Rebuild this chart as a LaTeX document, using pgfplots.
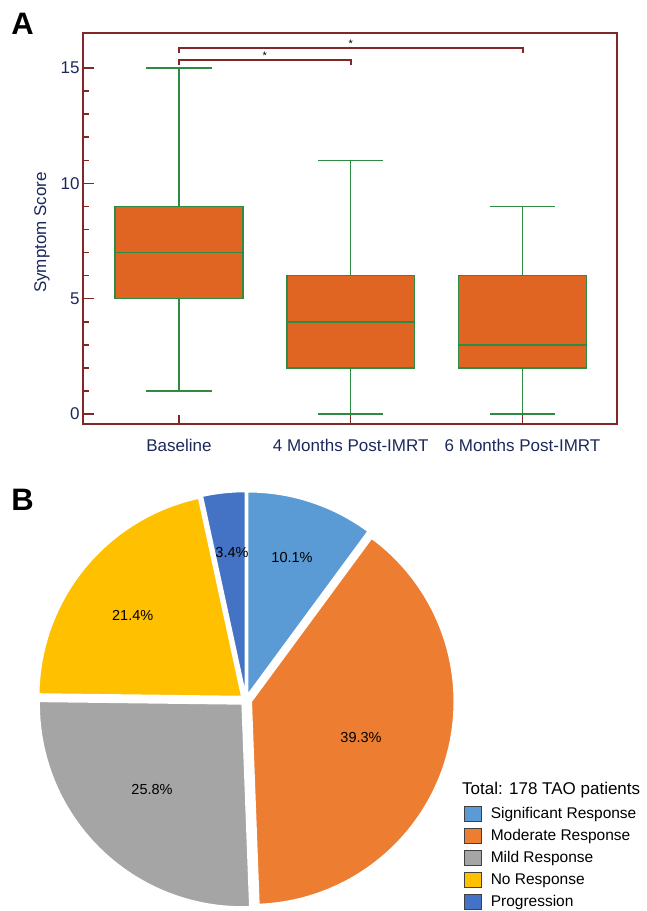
\documentclass[border=0pt]{standalone}
\usepackage{fontspec}
\setmainfont{Liberation Sans}
\usepackage{pgfplots}
\pgfplotsset{compat=1.18}
\usepgfplotslibrary{statistics}
\definecolor{axred}{RGB}{128,40,40}
\definecolor{boxorange}{RGB}{224,101,34}
\definecolor{boxgreen}{RGB}{46,139,66}
\definecolor{navy}{RGB}{28,40,92}
\definecolor{cSig}{RGB}{91,155,213}
\definecolor{cMod}{RGB}{237,125,49}
\definecolor{cMild}{RGB}{165,165,165}
\definecolor{cNo}{RGB}{255,192,0}
\definecolor{cProg}{RGB}{68,114,196}
\begin{document}
\begin{tikzpicture}
\path[use as bounding box] (0pt,0pt) rectangle (646pt,911pt);
\node[font=\fontsize{31}{31}\selectfont\bfseries, inner sep=0pt] at (22.5pt,887.5pt) {A};
\node[font=\fontsize{31}{31}\selectfont\bfseries, inner sep=0pt] at (22.5pt,411.5pt) {B};

% ---------------- Panel A: box plots ----------------
\begin{axis}[
  at={(83pt,487pt)}, anchor=south west, scale only axis,
  width=534pt, height=391pt,
  xmin=-0.558, xmax=2.55, ymin=-0.433, ymax=16.52,
  boxplot/draw direction=y,
  xtick={0,1,2},
  xticklabels={Baseline,4 Months Post-IMRT,6 Months Post-IMRT},
  ytick={0,5,10,15},
  minor ytick={1,2,3,4,6,7,8,9,11,12,13,14},
  xtick pos=lower, ytick pos=left, tick align=inside,
  major tick length=11pt, minor tick length=6pt,
  xtick style={/pgfplots/major tick length=9pt},
  axis line style={draw=axred, line width=2pt},
  tick style={draw=axred, line width=1.6pt},
  tick label style={font=\fontsize{17}{20}\selectfont, text=navy},
  /pgf/number format/assume math mode=true,
  xticklabel style={anchor=base, yshift=-28pt},
  ylabel={Symptom Score},
  ylabel style={font=\fontsize{17}{20}\selectfont, text=navy,
    at={(axis description cs:-0.077,0.49)}, anchor=center},
  clip=false,
]
\addplot[boxplot prepared={lower whisker=1, lower quartile=5, median=7,
    upper quartile=9, upper whisker=15, draw position=0,
    box extend=0.744, whisker extend=0.38},
  fill=boxorange, draw=boxgreen, line width=1.5pt, solid, mark=none]
  coordinates {};
\addplot[boxplot prepared={lower whisker=0, lower quartile=2, median=4,
    upper quartile=6, upper whisker=11, draw position=1,
    box extend=0.744, whisker extend=0.38},
  fill=boxorange, draw=boxgreen, line width=1.5pt, solid, mark=none]
  coordinates {};
\addplot[boxplot prepared={lower whisker=0, lower quartile=2, median=3,
    upper quartile=6, upper whisker=9, draw position=2,
    box extend=0.744, whisker extend=0.38},
  fill=boxorange, draw=boxgreen, line width=1.5pt, solid, mark=none]
  coordinates {};
% significance brackets
\addplot[axred, line width=2pt, mark=none] coordinates {(0,15.13) (0,15.34) (1,15.34) (1,15.13)};
\addplot[axred, line width=2pt, mark=none] coordinates {(0,15.65) (0,15.86) (2,15.86) (2,15.65)};
\node[font=\fontsize{11}{11}\selectfont, inner sep=0pt] at (axis cs:0.5,15.53) {*};
\node[font=\fontsize{11}{11}\selectfont, inner sep=0pt] at (axis cs:1.0,16.07) {*};
\end{axis}

% ---------------- Panel B: pie ----------------
\pgfmathsetmacro\pA{10.1}% Significant Response
\pgfmathsetmacro\pB{39.3}% Moderate Response
\pgfmathsetmacro\pC{25.8}% Mild Response
\pgfmathsetmacro\pD{21.4}% No Response
\pgfmathsetmacro\pE{3.4}%  Progression
\pgfmathsetmacro\sA{90}
\pgfmathsetmacro\eA{\sA-3.6*\pA}
\pgfmathsetmacro\eB{\eA-3.6*\pB}
\pgfmathsetmacro\eC{\eB-3.6*\pC}
\pgfmathsetmacro\eD{\eC-3.6*\pD}
\pgfmathsetmacro\eE{\eD-3.6*\pE}
\pgfmathsetmacro\mA{(\sA+\eA)/2}
\pgfmathsetmacro\mB{(\eA+\eB)/2}
\pgfmathsetmacro\mC{(\eB+\eC)/2}
\pgfmathsetmacro\mD{(\eC+\eD)/2}
\pgfmathsetmacro\mE{(\eD+\eE)/2}
\def\d{0.0271}
\pgfmathsetmacro\oxA{\d*cos(\mA)}\pgfmathsetmacro\oyA{\d*sin(\mA)}
\pgfmathsetmacro\oxB{\d*cos(\mB)}\pgfmathsetmacro\oyB{\d*sin(\mB)}
\pgfmathsetmacro\oxC{\d*cos(\mC)}\pgfmathsetmacro\oyC{\d*sin(\mC)}
\pgfmathsetmacro\oxD{\d*cos(\mD)}\pgfmathsetmacro\oyD{\d*sin(\mD)}
\pgfmathsetmacro\oxE{\d*cos(\mE)}\pgfmathsetmacro\oyE{\d*sin(\mE)}

\begin{axis}[
  at={(43pt,8pt)}, anchor=south west, scale only axis,
  width=406pt, height=406pt,
  xmin=-1, xmax=1, ymin=-1, ymax=1,
  hide axis, clip=false,
  legend image code/.code={\draw[#1, draw=black!75, line width=0.8pt] (0pt,-7.5pt) rectangle (17pt,7.5pt);},
  legend style={at={(1.0369,0.2377)}, anchor=north west, draw=none, fill=none,
    inner sep=0pt, outer sep=0pt, row sep=6.2pt, column sep=9pt,
    font=\fontsize{15.5}{18}\selectfont,
    nodes={inner sep=0pt, text height=12pt, text depth=3pt},
    cells={anchor=west}},
]
\addplot[fill=cSig, draw=white, line width=1.5pt, domain=\eA:\sA, samples=40, variable=\t, forget plot]
  ({\oxA+cos(\t)},{\oyA+sin(\t)}) -- (axis cs:\oxA,\oyA) -- cycle;
\addplot[fill=cMod, draw=white, line width=1.5pt, domain=\eB:\eA, samples=80, variable=\t, forget plot]
  ({\oxB+cos(\t)},{\oyB+sin(\t)}) -- (axis cs:\oxB,\oyB) -- cycle;
\addplot[fill=cMild, draw=white, line width=1.5pt, domain=\eC:\eB, samples=60, variable=\t, forget plot]
  ({\oxC+cos(\t)},{\oyC+sin(\t)}) -- (axis cs:\oxC,\oyC) -- cycle;
\addplot[fill=cNo, draw=white, line width=1.5pt, domain=\eD:\eC, samples=60, variable=\t, forget plot]
  ({\oxD+cos(\t)},{\oyD+sin(\t)}) -- (axis cs:\oxD,\oyD) -- cycle;
\addplot[fill=cProg, draw=white, line width=1.5pt, domain=\eE:\eD, samples=20, variable=\t, forget plot]
  ({\oxE+cos(\t)},{\oyE+sin(\t)}) -- (axis cs:\oxE,\oyE) -- cycle;
\node[font=\fontsize{14.5}{16}\selectfont] at (axis cs:0.2266,0.6995) {10.1\%};
\node[font=\fontsize{14.5}{16}\selectfont] at (axis cs:0.5665,-0.1857) {39.3\%};
\node[font=\fontsize{14.5}{16}\selectfont] at (axis cs:-0.463,-0.440) {25.8\%};
\node[font=\fontsize{14.5}{16}\selectfont] at (axis cs:-0.558,0.414) {21.4\%};
\node[font=\fontsize{14.5}{16}\selectfont] at (axis cs:-0.069,0.729) {3.4\%};
\addlegendimage{fill=cSig}\addlegendentry{Significant Response}
\addlegendimage{fill=cMod}\addlegendentry{Moderate Response}
\addlegendimage{fill=cMild}\addlegendentry{Mild Response}
\addlegendimage{fill=cNo}\addlegendentry{No Response}
\addlegendimage{fill=cProg}\addlegendentry{Progression}
\end{axis}
\node[anchor=base west, inner sep=0pt, font=\fontsize{17}{20}\selectfont] at (462pt,116pt) {Total: 178 TAO patients};
\end{tikzpicture}
\end{document}
